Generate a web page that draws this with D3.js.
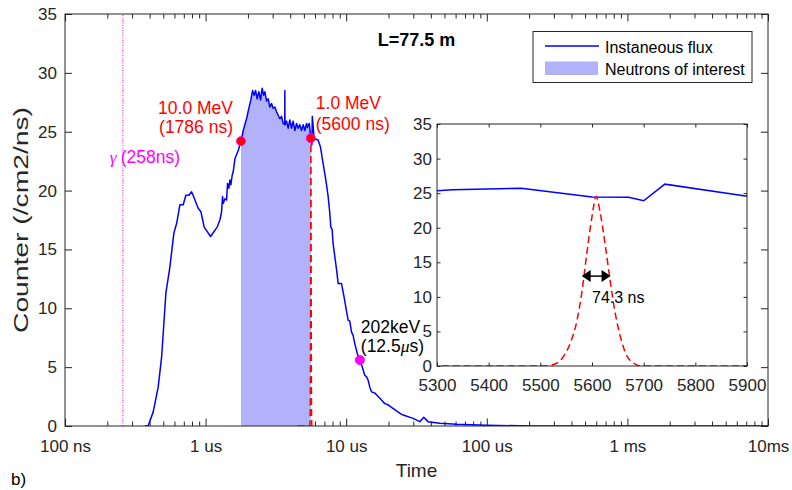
<!DOCTYPE html>
<html>
<head>
<meta charset="utf-8">
<script src="https://cdn.jsdelivr.net/npm/d3@7"></script>
<style>
  body { margin: 0; background: #fff; }
  svg { display: block; }
</style>
</head>
<body>
<svg id="chart" width="792" height="490"></svg>
<script>
// instantaneous flux (time in ns, counts /cm2/ns)
const timeNs = [370,391,424,460,487,522,557,595,622,657,
  693,724,761,795,840,886,926,977,1016,1085,
  1146,1209,1264,1299,1320,1334,1372,1410,1433,1464,
  1489,1513,1546,1572,1616,1706,1786,1852,1955,2031,
  2099,2158,2215,2267,2327,2392,2460,2525,2585,2640,
  2714,2786,2864,2944,3024,3108,3196,3282,3374,3468,
  3561,3655,3661,3667,3764,3866,3972,4084,4195,4313,
  4436,4551,4677,4810,4941,5079,5222,5300,5330,5463,
  5600,5671,5700,5741,5897,5983,6310,6563,6852,7161,
  7440,7643,7772,7937,8072,8299,8534,8769,9258,9506,
  9775,9934,10318,10607,10902,11194,11508,11965,12360,12850,
  13180,13550,13930,14320,14720,15130,15970,16870,17820,18800,
  19860,21500,24000,25400,29900,33400,35600,38200,46300,60800,
  99300,212000,10000000];
const flux = [0,0.05,1.2,3.3,5.9,11.3,13.5,16.4,17.2,18.8,
  18.8,19.6,19.6,19.9,19.2,18.5,18.2,16.9,16.6,16.1,
  16.5,16.9,17.5,18.2,19.5,18.9,19.3,19.2,20.6,20.2,
  20.9,20.5,21.3,21.6,22.7,23.4,24.2,25.1,26.1,27.0,
  27.7,28.5,28.1,28.5,27.8,28.4,27.7,28.7,28.1,28.4,
  27.6,27.8,27.1,27.4,27.0,27.1,26.7,26.4,26.1,26.3,
  25.7,25.6,28.5,25.6,25.9,25.3,26.0,25.3,25.9,25.1,
  25.7,25.3,25.6,25.1,25.6,25.1,25.7,25.35,25.5,25.7,
  24.45,24.4,23.9,26.3,24.6,24.4,24.3,23.7,22.3,20.9,
  19.5,18.1,16.9,16.7,15.5,14.4,13.3,12.1,12.1,11.4,
  10.6,10.1,9.0,8.9,8.0,7.7,7.0,6.2,5.6,5.2,
  4.8,4.3,4.2,3.9,3.3,2.9,2.8,2.5,2.2,1.9,
  1.8,1.5,1.1,0.93,0.65,0.37,0.74,0.37,0.23,0.14,
  0.06,0,0];

// resolution peak around 5600 ns (red dashed)
const peakNs = [4500,5500,5520,5532,5545,5558,5571,5581,5590,5600,5608,5616,5626,5635,5645,5655,5668,5681,5694,5900];
const peakVal = [0,0,0.1,0.4,1.4,3.3,6.6,11.0,16.3,21.6,24.5,22.1,17.3,12.4,7.6,4.2,1.4,0.4,0,0];

// window of neutrons of interest
const windowNs = [1786, 5600];

// energy markers
const markNs = [1786, 5600, 12500];
const markVal = [24.2, 24.45, 5.6];
const gammaNs = 258;

// FWHM arrow in the inset
const arrowNs = [5580, 5636];
const arrowVal = 13;

const xTickNs = [1e2, 1e3, 1e4, 1e5, 1e6, 1e7];
const xTickLabels = ["100 ns", "1 us", "10 us", "100 us", "1 ms", "10ms"];
const yTicks = [0, 5, 10, 15, 20, 25, 30, 35];
const insetXTicks = [5300, 5400, 5500, 5600, 5700, 5800, 5900];

const FONT = '"Liberation Sans", Arial, Helvetica, sans-serif';
const SERIF = '"Liberation Serif", "DejaVu Serif", serif';
const axisColor = "#262626";

const svg = d3.select("#chart").attr("font-family", FONT);

const x = d3.scaleLog().domain([100, 1e7]).range([65, 768]);
const y = d3.scaleLinear().domain([0, 35]).range([426, 14]);
const xi = d3.scaleLinear().domain([5300, 5900]).range([437, 747]);
const yi = d3.scaleLinear().domain([0, 35]).range([366, 124]);

const data = d3.zip(timeNs, flux).map(([t, v]) => ({ t, v }));
const peak = d3.zip(peakNs, peakVal).map(([t, v]) => ({ t, v }));

function styleAxis(g, fs) {
  g.attr("font-family", FONT);
  g.select(".domain").remove();
  g.selectAll(".tick line").attr("stroke", axisColor);
  g.selectAll(".tick text").attr("fill", axisColor).attr("font-size", fs);
}

const defs = svg.append("defs");
defs.append("clipPath").attr("id", "clipMain")
  .append("rect").attr("x", 65).attr("y", 14).attr("width", 703).attr("height", 412);
defs.append("clipPath").attr("id", "clipInset")
  .append("rect").attr("x", 437).attr("y", 124).attr("width", 310).attr("height", 242);

// ---- main axes
const minorNs = x.ticks().filter((d) => xTickNs.indexOf(d) < 0);

svg.append("g")
  .attr("transform", `translate(0,${y(0)})`)
  .call(d3.axisBottom(x).tickValues(minorNs).tickSize(-4.5).tickFormat(""))
  .call((g) => styleAxis(g, 17));
svg.append("g")
  .attr("transform", `translate(0,${y(0)})`)
  .call(d3.axisBottom(x).tickValues(xTickNs).tickSize(-7.5).tickPadding(14)
    .tickFormat((d) => xTickLabels[xTickNs.indexOf(d)]))
  .call((g) => styleAxis(g, 17));
svg.append("g")
  .attr("transform", `translate(0,${y(35)})`)
  .call(d3.axisTop(x).tickValues(minorNs).tickSize(-4.5).tickFormat(""))
  .call((g) => styleAxis(g, 17));
svg.append("g")
  .attr("transform", `translate(0,${y(35)})`)
  .call(d3.axisTop(x).tickValues(xTickNs).tickSize(-7.5).tickFormat(""))
  .call((g) => styleAxis(g, 17));
svg.append("g")
  .attr("transform", `translate(${x(100)},0)`)
  .call(d3.axisLeft(y).tickValues(yTicks).tickSize(-7).tickPadding(8))
  .call((g) => styleAxis(g, 17));
svg.append("g")
  .attr("transform", `translate(${x(1e7)},0)`)
  .call(d3.axisRight(y).tickValues(yTicks).tickSize(-7).tickFormat(""))
  .call((g) => styleAxis(g, 17));

// ---- main plot marks
const plot = svg.append("g").attr("clip-path", "url(#clipMain)");

const inWindow = data.filter((d) => d.t >= windowNs[0] && d.t <= windowNs[1]);
plot.append("path")
  .datum(inWindow)
  .attr("fill", "#b2b2fa")
  .attr("d", d3.area().x((d) => x(d.t)).y0(y(0)).y1((d) => y(d.v)));

plot.append("line")
  .attr("x1", x(gammaNs)).attr("x2", x(gammaNs))
  .attr("y1", y(0)).attr("y2", y(35))
  .attr("stroke", "#ff00ff").attr("stroke-width", 1)
  .attr("stroke-dasharray", "1,1.5");

plot.append("path")
  .datum(data)
  .attr("fill", "none")
  .attr("stroke", "#0000ff")
  .attr("stroke-width", 1.5)
  .attr("stroke-linejoin", "round")
  .attr("d", d3.line().x((d) => x(d.t)).y((d) => y(d.v)));

plot.append("path")
  .datum(peak)
  .attr("fill", "none")
  .attr("stroke", "#ff0000")
  .attr("stroke-width", 1.5)
  .attr("stroke-dasharray", "7,4")
  .attr("d", d3.line().curve(d3.curveMonotoneX).x((d) => x(d.t)).y((d) => y(d.v)));

svg.append("g")
  .selectAll("circle")
  .data(d3.zip(markNs, markVal))
  .join("circle")
  .attr("cx", (d) => x(d[0]))
  .attr("cy", (d) => y(d[1]))
  .attr("r", 4.5)
  .attr("fill", (d, i) => (i < 2 ? "#ff0000" : "#ff00ff"))
  .attr("stroke", "#ff00ff")
  .attr("stroke-width", 1);

// box
svg.append("rect")
  .attr("x", x(100)).attr("y", y(35))
  .attr("width", x(1e7) - x(100)).attr("height", y(0) - y(35))
  .attr("fill", "none").attr("stroke", axisColor).attr("stroke-width", 1);

// ---- annotations
const ann = svg.append("g").attr("font-size", 17.5);
ann.append("text").attr("fill", "#ff0000").attr("text-anchor", "end")
  .attr("x", x(markNs[0]) - 8).attr("y", y(markVal[0]) - 26.7).text("10.0 MeV");
ann.append("text").attr("fill", "#ff0000").attr("text-anchor", "end")
  .attr("x", x(markNs[0]) - 8).attr("y", y(markVal[0]) - 8.5).text("(1786 ns)");
ann.append("text").attr("fill", "#ff0000")
  .attr("x", x(markNs[1]) + 5).attr("y", y(markVal[1]) - 28.7).text("1.0 MeV");
ann.append("text").attr("fill", "#ff0000")
  .attr("x", x(markNs[1]) + 5).attr("y", y(markVal[1]) - 8.2).text("(5600 ns)");
ann.append("text").attr("fill", "#000")
  .attr("x", x(markNs[2]) + 1).attr("y", y(markVal[2]) - 26.8).text("202keV");
const mu = ann.append("text").attr("fill", "#000")
  .attr("x", x(markNs[2]) + 1).attr("y", y(markVal[2]) - 8.4);
mu.append("tspan").text("(12.5");
mu.append("tspan").attr("font-family", SERIF).attr("font-style", "italic").text("μ");
mu.append("tspan").text("s)");
const gam = ann.append("text").attr("fill", "#ff00ff")
  .attr("x", x(gammaNs) - 13).attr("y", 163);
gam.append("tspan").attr("font-family", SERIF).attr("font-style", "italic").text("γ");
gam.append("tspan").attr("dx", 4).text("(258ns)");

svg.append("text")
  .attr("x", (x(100) + x(1e7)) / 2).attr("y", 46)
  .attr("text-anchor", "middle").attr("font-weight", "bold")
  .attr("font-size", 18).attr("fill", "#000")
  .text("L=77.5 m");

// axis titles
svg.append("text")
  .attr("x", (x(100) + x(1e7)) / 2).attr("y", 477)
  .attr("text-anchor", "middle").attr("font-size", 19).attr("fill", axisColor)
  .text("Time");
svg.append("text")
  .attr("transform", `translate(28,${(y(0) + y(35)) / 2}) rotate(-90)`)
  .attr("text-anchor", "middle").attr("font-size", 20).attr("fill", axisColor)
  .attr("textLength", 226).attr("lengthAdjust", "spacingAndGlyphs")
  .text("Counter (/cm2/ns)");
svg.append("text")
  .attr("x", 11).attr("y", 485).attr("font-size", 17).attr("fill", "#000")
  .text("b)");

// ---- inset
svg.append("rect")
  .attr("x", xi(5300)).attr("y", yi(35))
  .attr("width", xi(5900) - xi(5300)).attr("height", yi(0) - yi(35))
  .attr("fill", "#fff");

const ins = svg.append("g").attr("clip-path", "url(#clipInset)");
ins.append("path")
  .datum(data)
  .attr("fill", "none")
  .attr("stroke", "#0000ff")
  .attr("stroke-width", 1.5)
  .attr("d", d3.line().x((d) => xi(d.t)).y((d) => yi(d.v)));
ins.append("path")
  .datum(peak)
  .attr("fill", "none")
  .attr("stroke", "#ff0000")
  .attr("stroke-width", 1.5)
  .attr("stroke-dasharray", "7,4")
  .attr("d", d3.line().curve(d3.curveMonotoneX).x((d) => xi(d.t)).y((d) => yi(d.v)));

svg.append("g")
  .attr("transform", `translate(0,${yi(0)})`)
  .call(d3.axisBottom(xi).tickValues(insetXTicks).tickSize(-3.5).tickPadding(13)
    .tickFormat(d3.format("d")))
  .call((g) => styleAxis(g, 17));
svg.append("g")
  .attr("transform", `translate(0,${yi(35)})`)
  .call(d3.axisTop(xi).tickValues(insetXTicks).tickSize(-3.5).tickFormat(""))
  .call((g) => styleAxis(g, 17));
svg.append("g")
  .attr("transform", `translate(${xi(5300)},0)`)
  .call(d3.axisLeft(yi).tickValues(yTicks).tickSize(-3.5).tickPadding(5))
  .call((g) => styleAxis(g, 17));
svg.append("g")
  .attr("transform", `translate(${xi(5900)},0)`)
  .call(d3.axisRight(yi).tickValues(yTicks).tickSize(-3.5).tickFormat(""))
  .call((g) => styleAxis(g, 17));
svg.append("rect")
  .attr("x", xi(5300)).attr("y", yi(35))
  .attr("width", xi(5900) - xi(5300)).attr("height", yi(0) - yi(35))
  .attr("fill", "none").attr("stroke", axisColor).attr("stroke-width", 1);

// FWHM arrow
const ax0 = xi(arrowNs[0]), ax1 = xi(arrowNs[1]), ay = yi(arrowVal);
svg.append("line")
  .attr("x1", ax0 + 4).attr("x2", ax1 - 4).attr("y1", ay).attr("y2", ay)
  .attr("stroke", "#000").attr("stroke-width", 1.5);
svg.append("path")
  .attr("fill", "#000")
  .attr("d", `M${ax0},${ay}L${ax0 + 9},${ay - 6}L${ax0 + 9},${ay + 6}Z` +
    `M${ax1},${ay}L${ax1 - 9},${ay - 6}L${ax1 - 9},${ay + 6}Z`);
svg.append("text")
  .attr("x", xi(5600)).attr("y", ay + 27)
  .attr("font-size", 16).attr("fill", "#000")
  .text("74.3 ns");

// ---- legend
const lg = svg.append("g").attr("transform", "translate(533,31.5)");
lg.append("rect").attr("width", 219).attr("height", 51)
  .attr("fill", "#fff").attr("stroke", axisColor).attr("stroke-width", 1);
lg.append("line").attr("x1", 12).attr("x2", 66).attr("y1", 14.5).attr("y2", 14.5)
  .attr("stroke", "#0000ff").attr("stroke-width", 1.5);
lg.append("text").attr("x", 72).attr("y", 21).attr("font-size", 16).attr("fill", "#000")
  .text("Instaneous flux");
lg.append("rect").attr("x", 12).attr("y", 30).attr("width", 53).attr("height", 13.5)
  .attr("fill", "#b2b2fa");
lg.append("text").attr("x", 72).attr("y", 43.5).attr("font-size", 16).attr("fill", "#000")
  .text("Neutrons of interest");
</script>
</body>
</html>
